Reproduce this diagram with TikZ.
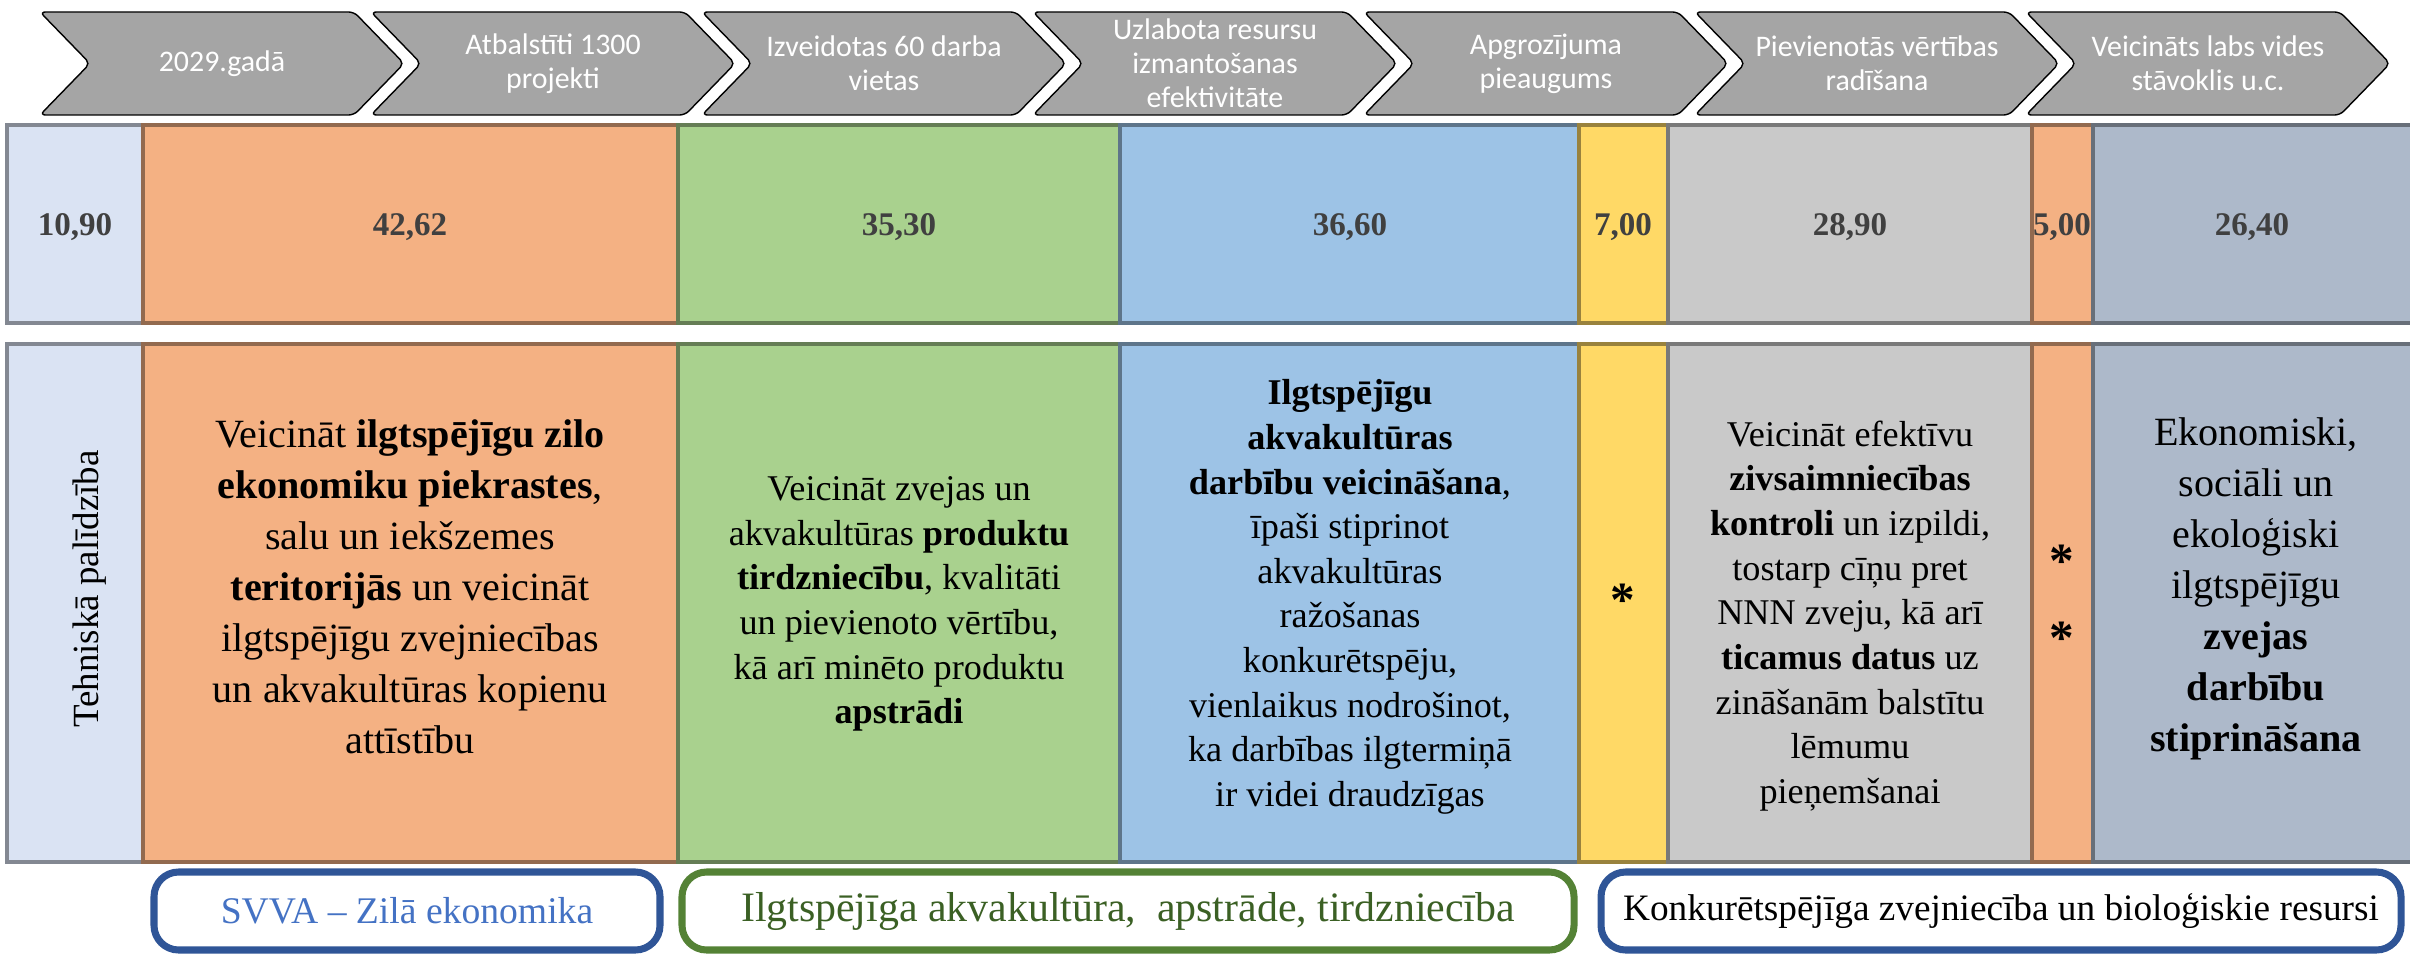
\documentclass[tikz,border=0pt]{standalone}
\usepackage{fontspec}
\setmainfont{Liberation Serif}[BoldFont={Liberation Serif Bold}]
\newfontfamily\calibri{Carlito}

\definecolor{chevgray}{HTML}{A5A5A5}
\definecolor{numgray}{HTML}{404040}
\definecolor{tpblue}{HTML}{DAE3F3}
\definecolor{orng}{HTML}{F4B183}
\definecolor{grn}{HTML}{A9D18E}
\definecolor{blu}{HTML}{9DC3E6}
\definecolor{yel}{HTML}{FFD966}
\definecolor{gry}{HTML}{C9C9C9}
\definecolor{slate}{HTML}{ADB9CA}
\definecolor{svvablue}{HTML}{2F5597}
\definecolor{svvatext}{HTML}{4472C4}
\definecolor{akvagreen}{HTML}{548235}
\definecolor{akvatext}{HTML}{3B6024}

\tikzset{
  chev/.style={fill=chevgray, rounded corners=1.5},
  restxt/.style={align=center, text=white, font=\calibri\fontsize{8.5}{9.7}\selectfont},
  cell/.style={fill=#1, draw=#1!60!black, line width=1pt},
  val/.style={anchor=base, text=numgray, font=\bfseries\fontsize{9.4}{11}\selectfont},
  goal/.style={align=center, font=\fontsize{10.3}{12.7}\selectfont},
  biggoal/.style={align=center, font=\fontsize{11.4}{14.5}\selectfont},
  star/.style={font=\bfseries\fontsize{14}{15}\selectfont},
  area/.style={draw=#1, line width=2pt, rounded corners=7, fill=white},
}

\begin{document}
\begin{tikzpicture}[x=0.01cm, y=-0.01cm]

\useasboundingbox (0,0) rectangle (2410,955);

%% result chevrons
\foreach \i/\t in {0/{2029.gadā}, 1/{Atbalstīti 1300\\projekti},
  2/{Izveidotas 60 darba\\vietas}, 3/{Uzlabota resursu\\izmantošanas\\efektivitāte},
  4/{Apgrozījuma\\pieaugums}, 5/{Pievienotās vērtības\\radīšana},
  6/{Veicināts labs vides\\stāvoklis u.c.}}{
  \draw[chev] (40+331*\i,12) -- ++(314,0) -- ++(50,51.5) -- ++(-50,51.5)
    -- ++(-314,0) -- ++(50,-51.5) -- cycle;
  \node[restxt] (res\i) at (222+331*\i,63.5) {\t};
}

%% columns, both rows
\foreach \a/\b/\c in {7/143/tpblue, 143/678/orng, 678/1120/grn, 1120/1579/blu,
  1579/1668/yel, 1668/2032/gry, 2032/2093/orng, 2093/2412/slate}{
  \draw[cell=\c] (\a,125) rectangle (\b,323);
  \draw[cell=\c] (\a,344) rectangle (\b,862);
}

%% amounts
\foreach \x/\v [count=\n] in {75/{10,90}, 410/{42,62}, 899/{35,30}, 1350/{36,60},
  1623/{7,00}, 1850/{28,90}, 2062/{5,00}, 2252/{26,40}}
  \node[val] (val\n) at (\x,236) {\v};

%% objectives
\node[rotate=90, font=\fontsize{10.5}{12}\selectfont] (tp) at (90,589) {Tehniskā palīdzība};

\node[biggoal] (zilo) at (410,587)
  {Veicināt \textbf{ilgtspējīgu zilo}\\ \textbf{ekonomiku piekrastes},\\ salu un iekšzemes\\
   \textbf{teritorijās} un veicināt\\ ilgtspējīgu zvejniecības\\ un akvakultūras kopienu\\ attīstību};

\node[goal] (tirdz) at (899,604)
  {Veicināt zvejas un\\ akvakultūras \textbf{produktu}\\ \textbf{tirdzniecību}, kvalitāti\\
   un pievienoto vērtību,\\ kā arī minēto produktu\\ \textbf{apstrādi}};

\node[goal] (akva) at (1350,597)
  {\textbf{Ilgtspējīgu}\\ \textbf{akvakultūras}\\ \textbf{darbību veicināšana},\\ īpaši stiprinot\\
   akvakultūras\\ ražošanas\\ konkurētspēju,\\ vienlaikus nodrošinot,\\
   ka darbības ilgtermiņā\\ ir videi draudzīgas};

\node[star] (star1) at (1623,600) {*};

\node[goal] (kontr) at (1850,616)
  {Veicināt efektīvu\\ \textbf{zivsaimniecības}\\ \textbf{kontroli} un izpildi,\\ tostarp cīņu pret\\
   NNN zveju, kā arī\\ \textbf{ticamus datus} uz\\ zināšanām balstītu\\ lēmumu\\ pieņemšanai};

\node[star] (star2) at (2062,561) {*};
\node[star] (star3) at (2062,638) {*};

\node[biggoal] (zveja) at (2256,589)
  {Ekonomiski,\\ sociāli un\\ ekoloģiski\\ ilgtspējīgu\\ \textbf{zvejas}\\ \textbf{darbību}\\ \textbf{stiprināšana}};

%% funds
\draw[area=svvablue] (407,911)
  node[text=svvatext, font=\fontsize{10.7}{12}\selectfont] (svva) {SVVA – Zilā ekonomika}
  +(-253,-39) rectangle +(253,39);
\draw[area=akvagreen] (1128,911)
  node[text=akvatext, font=\fontsize{11.9}{13}\selectfont] (apstr) {Ilgtspējīga akvakultūra,\ \ apstrāde, tirdzniecība}
  +(-446,-39) rectangle +(446,39);
\draw[area=svvablue] (2001,911)
  node[font=\fontsize{10.6}{12}\selectfont] (resursi) {Konkurētspējīga zvejniecība un bioloģiskie resursi}
  +(-400,-39) rectangle +(400,39);

\end{tikzpicture}
\end{document}
